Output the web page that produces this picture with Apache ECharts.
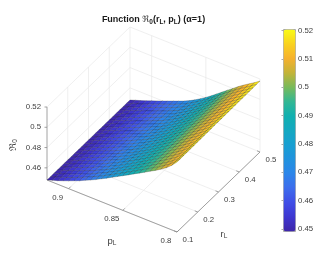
<!DOCTYPE html>
<html><head><meta charset="utf-8">
<style>html,body{margin:0;padding:0;background:#fff}#c{width:327px;height:256px}</style>
<script src="https://cdn.jsdelivr.net/npm/echarts@6/dist/echarts.min.js"></script>
</head><body><div id="c"></div>
<script>
var pValues=[0.92,0.915,0.91,0.905,0.9,0.895,0.89,0.885,0.88,0.875,0.87,0.865,0.86,0.855,0.85,0.845,0.84,0.835,0.83,0.825,0.82,0.815,0.81,0.805,0.8];
var rValues=[0.1,0.1167,0.1333,0.15,0.1667,0.1833,0.2,0.2167,0.2333,0.25,0.2667,0.2833,0.3,0.3167,0.3333,0.35,0.3667,0.3833,0.4,0.4167,0.4333,0.45,0.4667,0.4833,0.5];
var zRows=[
[.4480,.4498,.4516,.4536,.4557,.4579,.4601,.4626,.4651,.4677,.4705,.4733,.4763,.4792,.4822,.4851,.4882,.4911,.4941,.4972,.5002,.5035,.5071,.5115,.5170],
[.4480,.4498,.4516,.4536,.4557,.4579,.4601,.4626,.4651,.4676,.4704,.4732,.4762,.4791,.4821,.4851,.4882,.4911,.4942,.4973,.5004,.5037,.5073,.5116,.5170],
[.4480,.4498,.4516,.4536,.4557,.4579,.4601,.4625,.4650,.4676,.4703,.4731,.4761,.4790,.4821,.4850,.4882,.4912,.4943,.4974,.5005,.5038,.5074,.5117,.5171],
[.4480,.4498,.4516,.4536,.4557,.4579,.4601,.4625,.4650,.4675,.4702,.4730,.4760,.4789,.4820,.4850,.4882,.4912,.4943,.4975,.5007,.5040,.5076,.5119,.5171],
[.4480,.4498,.4516,.4536,.4557,.4579,.4600,.4625,.4649,.4675,.4701,.4729,.4759,.4788,.4819,.4849,.4882,.4913,.4944,.4977,.5008,.5042,.5077,.5120,.5172],
[.4480,.4498,.4516,.4536,.4557,.4579,.4600,.4625,.4649,.4674,.4701,.4728,.4758,.4788,.4818,.4849,.4882,.4913,.4945,.4978,.5010,.5044,.5079,.5121,.5172],
[.4480,.4498,.4516,.4536,.4557,.4579,.4600,.4625,.4649,.4673,.4700,.4727,.4757,.4787,.4818,.4849,.4882,.4914,.4946,.4979,.5011,.5045,.5081,.5122,.5173],
[.4480,.4498,.4516,.4536,.4557,.4579,.4600,.4624,.4648,.4673,.4699,.4726,.4756,.4786,.4817,.4848,.4882,.4914,.4947,.4980,.5013,.5047,.5082,.5123,.5173],
[.4480,.4498,.4516,.4536,.4557,.4579,.4600,.4624,.4648,.4672,.4698,.4725,.4755,.4785,.4816,.4848,.4882,.4914,.4948,.4981,.5015,.5049,.5084,.5124,.5173],
[.4480,.4498,.4516,.4536,.4557,.4579,.4600,.4624,.4647,.4671,.4697,.4724,.4754,.4784,.4816,.4848,.4882,.4915,.4948,.4983,.5016,.5050,.5086,.5125,.5174],
[.4480,.4498,.4516,.4536,.4557,.4579,.4600,.4624,.4647,.4671,.4696,.4723,.4753,.4783,.4815,.4847,.4882,.4915,.4949,.4984,.5018,.5052,.5087,.5127,.5174],
[.4480,.4498,.4516,.4536,.4557,.4579,.4600,.4623,.4646,.4670,.4695,.4722,.4752,.4782,.4814,.4847,.4882,.4916,.4950,.4985,.5019,.5054,.5089,.5128,.5175],
[.4480,.4499,.4517,.4537,.4557,.4579,.4600,.4623,.4646,.4670,.4695,.4721,.4751,.4782,.4814,.4847,.4882,.4916,.4951,.4986,.5021,.5056,.5091,.5129,.5175],
[.4480,.4499,.4517,.4537,.4557,.4578,.4600,.4623,.4646,.4669,.4694,.4720,.4750,.4781,.4813,.4846,.4882,.4916,.4952,.4987,.5023,.5057,.5092,.5130,.5175],
[.4480,.4499,.4517,.4537,.4557,.4578,.4600,.4623,.4645,.4668,.4693,.4719,.4749,.4780,.4812,.4846,.4881,.4917,.4953,.4988,.5024,.5059,.5094,.5131,.5176],
[.4480,.4499,.4517,.4537,.4557,.4578,.4599,.4622,.4645,.4668,.4692,.4718,.4748,.4779,.4812,.4845,.4881,.4917,.4953,.4990,.5026,.5061,.5095,.5132,.5176],
[.4480,.4499,.4517,.4537,.4557,.4578,.4599,.4622,.4644,.4667,.4691,.4717,.4747,.4778,.4811,.4845,.4881,.4918,.4954,.4991,.5027,.5062,.5097,.5134,.5177],
[.4480,.4499,.4517,.4537,.4557,.4578,.4599,.4622,.4644,.4666,.4690,.4715,.4746,.4777,.4810,.4845,.4881,.4918,.4955,.4992,.5029,.5064,.5099,.5135,.5177],
[.4480,.4499,.4517,.4537,.4557,.4578,.4599,.4622,.4644,.4666,.4689,.4714,.4745,.4776,.4809,.4844,.4881,.4919,.4956,.4993,.5030,.5066,.5100,.5136,.5178],
[.4480,.4499,.4517,.4537,.4557,.4578,.4599,.4621,.4643,.4665,.4688,.4713,.4744,.4775,.4809,.4844,.4881,.4919,.4957,.4994,.5032,.5067,.5102,.5137,.5178],
[.4480,.4499,.4517,.4537,.4557,.4578,.4599,.4621,.4643,.4664,.4687,.4712,.4743,.4774,.4808,.4843,.4881,.4919,.4958,.4995,.5034,.5069,.5104,.5138,.5178],
[.4480,.4499,.4517,.4537,.4557,.4578,.4599,.4621,.4642,.4664,.4687,.4711,.4742,.4774,.4807,.4843,.4881,.4920,.4959,.4997,.5035,.5071,.5105,.5139,.5179],
[.4480,.4499,.4517,.4537,.4557,.4578,.4599,.4621,.4642,.4663,.4686,.4710,.4741,.4773,.4806,.4843,.4881,.4920,.4959,.4998,.5037,.5073,.5107,.5141,.5179],
[.4480,.4499,.4517,.4537,.4557,.4578,.4599,.4620,.4641,.4662,.4685,.4709,.4740,.4772,.4806,.4842,.4881,.4921,.4960,.4999,.5038,.5074,.5108,.5142,.5180],
[.4480,.4499,.4517,.4537,.4557,.4578,.4599,.4620,.4641,.4662,.4684,.4709,.4738,.4771,.4805,.4842,.4881,.4921,.4961,.5000,.5040,.5076,.5110,.5143,.5180]
];
var pTicks=[0.9,0.85,0.8];
var rTicks=[0.1,0.2,0.3,0.4,0.5];
var zTicks=[0.46,0.48,0.5,0.52];
var parula=['#3e26a8','#3e36d0','#3f4de6','#3d6cec','#2c85ea','#2192de','#189fd2','#14a8c1','#10b0b0','#32b794','#78ba5a','#c4b338','#f6b12e','#f9d21e','#f9fb15'];

var lm=echarts.number.linearMap;
var pMax=0.92,pMin=0.8,rMin=0.1,rMax=0.5,zMin=0.448,zMax=0.52;
function proj(p,r,z){
  var a=lm(p,[pMin,pMax],[0,1]),b=lm(r,[rMin,rMax],[0,1]),c=lm(z,[zMin,zMax],[0,1]);
  return [177-130*a+83*b, 232-52*a-80*b-73*c];
}
function seg(a,b,color,w){
  return {type:'line',silent:true,shape:{x1:a[0],y1:a[1],x2:b[0],y2:b[1]},style:{stroke:color,lineWidth:w}};
}
var subRich={a:{fontFamily:'Liberation Sans',fontSize:9.5,color:'#404040',lineHeight:12},s:{fontFamily:'Liberation Sans',fontSize:6.5,color:'#404040',verticalAlign:'bottom',lineHeight:9}};
function txt(t,pt,align,rot,rich){
  var el={type:'text',silent:true,x:pt[0],y:pt[1],rotation:rot||0,style:{text:t,align:align,verticalAlign:'middle',fontFamily:'Liberation Sans',fontSize:7.8,fill:'#404040'}};
  if(rich){el.style.rich=subRich;}
  return el;
}
function renderFrame(){
  var g='#e8e8e8',ax='#8c8c8c',c=[];
  zTicks.forEach(function(z){
    c.push(seg(proj(pMax,rMin,z),proj(pMax,rMax,z),g,0.7));
    c.push(seg(proj(pMax,rMax,z),proj(pMin,rMax,z),g,0.7));
  });
  rTicks.forEach(function(r){
    c.push(seg(proj(pMin,r,zMin),proj(pMax,r,zMin),g,0.7));
    if(r>rMin)c.push(seg(proj(pMax,r,zMin),proj(pMax,r,zMax),g,0.7));
  });
  pTicks.forEach(function(p){
    c.push(seg(proj(p,rMin,zMin),proj(p,rMax,zMin),g,0.7));
    c.push(seg(proj(p,rMax,zMin),proj(p,rMax,zMax),g,0.7));
  });
  c.push(seg(proj(pMax,rMin,zMin),proj(pMax,rMin,zMax),ax,0.8));
  c.push(seg(proj(pMax,rMin,zMin),proj(pMin,rMin,zMin),ax,0.8));
  c.push(seg(proj(pMin,rMin,zMin),proj(pMin,rMax,zMin),ax,0.8));
  zTicks.forEach(function(z){
    var a=proj(pMax,rMin,z);
    c.push(seg(a,[a[0]-2.5,a[1]],ax,0.8));
    c.push(txt(String(z),[a[0]-6,a[1]],'right'));
  });
  pTicks.forEach(function(p){
    var a=proj(p,rMin,zMin);
    c.push(seg(a,[a[0]+2,a[1]-2],ax,0.8));
    c.push(txt(String(p),[a[0]-11,a[1]+9],'center'));
  });
  rTicks.forEach(function(r){
    var a=proj(pMin,r,zMin);
    c.push(seg(a,[a[0]-3,a[1]-1.2],ax,0.8));
    c.push(txt(String(r),[a[0]+11,a[1]+7.5],'center'));
  });
  c.push(txt('{a|p}{s|L}',[112,241],'center',0,true));
  c.push(txt('{a|r}{s|L}',[224,234],'center',0,true));
  c.push(txt('{a|ℜ}{s|0}',[13,145],'center',Math.PI/2,true));
  return {type:'group',children:c};
}
function renderCell(params,api){
  var i=api.value(0),k=api.value(1);
  var pts=[proj(pValues[i],rValues[k],zRows[k][i]),
           proj(pValues[i+1],rValues[k],zRows[k][i+1]),
           proj(pValues[i+1],rValues[k+1],zRows[k+1][i+1]),
           proj(pValues[i],rValues[k+1],zRows[k+1][i])];
  return {type:'polygon',shape:{points:pts},style:{fill:api.visual('color'),stroke:'rgba(15,15,15,0.42)',lineWidth:0.5}};
}
var cells=[];
for(var k=rValues.length-2;k>=0;k--){
  for(var i=0;i<pValues.length-1;i++){
    cells.push([i,k,zRows[k][i+1]]);
  }
}
var titleRich={
  b:{fontFamily:'Liberation Sans',fontSize:9,fontWeight:'bold',color:'#1a1a1a',lineHeight:12},
  m:{fontFamily:'DejaVu Sans',fontSize:8.5,fontWeight:'normal',color:'#333',lineHeight:12},
  s:{fontFamily:'Liberation Sans',fontSize:6.5,fontWeight:'bold',color:'#1a1a1a',lineHeight:9,verticalAlign:'bottom'}
};
var chart=echarts.init(document.getElementById('c'),null,{renderer:'canvas'});
chart.setOption({
  animation:false,
  backgroundColor:'#fff',
  title:{text:'{b|Function }{m|ℜ}{s|0}{b|(r}{s|L}{b|, p}{s|L}{b|) (α=1)}',left:153.5,top:14,textAlign:'center',padding:0,textStyle:{rich:titleRich,fontSize:9}},
  grid:{left:283,top:30.5,width:12,height:198.5,show:false},
  xAxis:{type:'value',min:0,max:1,show:false},
  yAxis:{type:'value',position:'right',min:0.45,max:0.52,interval:0.01,z:5,
    axisLine:{show:false},axisTick:{show:true,inside:true,length:1.5,lineStyle:{color:'#707070',width:0.6}},
    splitLine:{show:false},
    axisLabel:{color:'#404040',fontSize:7.8,fontFamily:'Liberation Sans',margin:3,showMinLabel:true,showMaxLabel:true,
      formatter:function(v){return String(+v.toFixed(2));}}},
  visualMap:{type:'continuous',seriesIndex:1,dimension:2,min:0.449,max:0.5205,left:283,top:29,itemWidth:12,itemHeight:202,
    calculable:false,realtime:false,text:['',''],padding:0,borderColor:'#a8a8a8',borderWidth:1,inRange:{color:parula},hoverLink:false,z:1},
  series:[
    {type:'custom',coordinateSystem:'none',renderItem:renderFrame,data:[[0]],silent:true,z:2},
    {type:'custom',coordinateSystem:'none',renderItem:renderCell,data:cells,silent:true,z:3,progressive:0,animation:false}
  ]
});
</script></body></html>
